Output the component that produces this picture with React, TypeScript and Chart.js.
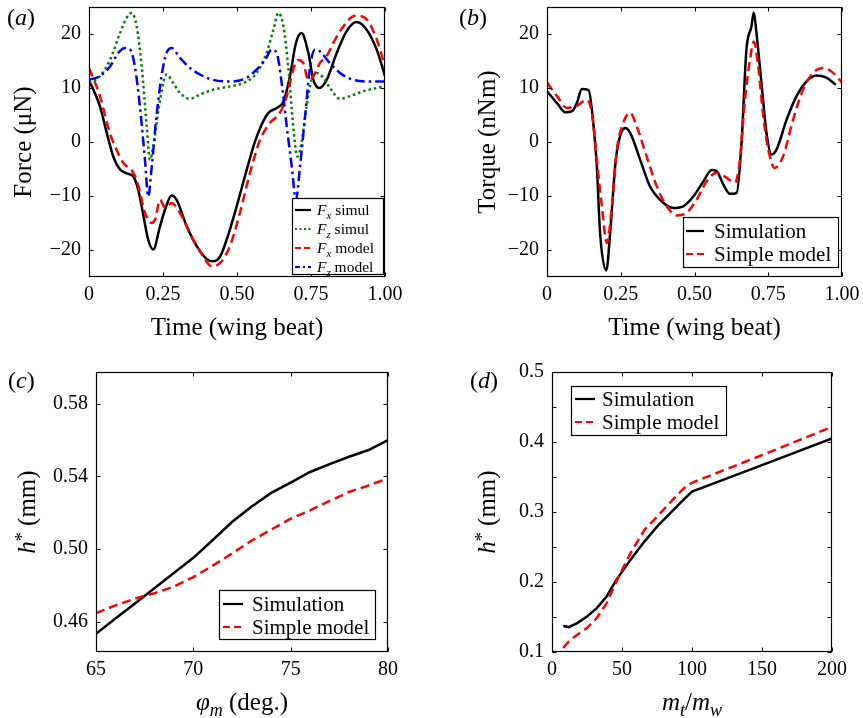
import React, { useEffect, useRef } from 'react';
import { Chart, registerables } from 'chart.js';

Chart.register(...registerables);

const SERIF = '"Liberation Serif", "Times New Roman", Times, serif';

// ---------------- (a) Force vs time ----------------
const aFxSimT = [0, 0.037, 0.06, 0.082, 0.105, 0.127, 0.15, 0.167, 0.185, 0.2, 0.217, 0.24, 0.257, 0.279, 0.296, 0.33, 0.364, 0.398, 0.42, 0.443, 0.465, 0.499, 0.533, 0.561, 0.583, 0.606, 0.634, 0.657, 0.679, 0.699, 0.718, 0.741, 0.758, 0.778, 0.803, 0.837, 0.87, 0.904, 0.938, 0.972, 1.0];
const aFxSim = [11.5, 6.6, 1.7, -2.7, -5.1, -5.8, -6.4, -9.0, -14, -18.1, -19.9, -15.6, -12.5, -9.9, -10.7, -15.6, -19.3, -21.7, -22.1, -21.2, -18.1, -11.9, -5.1, 0.1, 3.2, 5.4, 6.3, 7.5, 12.2, 18.3, 20.2, 16.5, 11.5, 10, 11.5, 16.5, 20.5, 22.2, 20.8, 17.1, 12.2];

const aFxModT = [0, 0.037, 0.07, 0.093, 0.116, 0.15, 0.167, 0.189, 0.212, 0.223, 0.24, 0.257, 0.279, 0.307, 0.353, 0.386, 0.414, 0.443, 0.476, 0.51, 0.544, 0.578, 0.611, 0.645, 0.668, 0.69, 0.707, 0.724, 0.741, 0.758, 0.78, 0.803, 0.825, 0.859, 0.899, 0.938, 0.972, 1.0];
const aFxMod = [13.7, 8.5, 1.7, -1.4, -3.9, -5.7, -8.2, -13.1, -15, -14.4, -10.7, -12.2, -11.3, -13.1, -18.1, -21.2, -23, -22.4, -19.3, -13.1, -5.7, 0.4, 3.5, 5.4, 8.5, 13.4, 15.2, 14.6, 11.5, 12.2, 14.6, 15.9, 18.3, 21.4, 23.4, 22.7, 19, 14];

const aFzSimT = [0, 0.037, 0.071, 0.105, 0.127, 0.144, 0.161, 0.178, 0.195, 0.206, 0.217, 0.24, 0.262, 0.285, 0.307, 0.341, 0.375, 0.42, 0.476, 0.533, 0.566, 0.6, 0.623, 0.64, 0.657, 0.673, 0.69, 0.704, 0.718, 0.735, 0.752, 0.769, 0.792, 0.814, 0.848, 0.882, 0.927, 0.972, 1.0];
const aFzSim = [10.9, 12.2, 15.2, 20.2, 23, 23.9, 21.4, 14, 2.9, -3.3, -0.8, 7.8, 12.5, 10.9, 9.1, 8, 8.8, 9.7, 10.3, 11.2, 12.8, 16.5, 20.8, 23.9, 21.4, 14, 2.9, -2.7, -0.2, 6.6, 11.5, 12.8, 11.9, 10, 8, 8.5, 9.4, 10, 10.4];

const aFzModT = [0, 0.037, 0.071, 0.099, 0.122, 0.139, 0.155, 0.172, 0.189, 0.2, 0.212, 0.228, 0.245, 0.262, 0.279, 0.307, 0.341, 0.375, 0.42, 0.476, 0.533, 0.566, 0.595, 0.617, 0.634, 0.651, 0.668, 0.685, 0.699, 0.713, 0.73, 0.747, 0.763, 0.78, 0.814, 0.848, 0.893, 0.949, 1.0];
const aFzMod = [11.5, 12.2, 14, 16.5, 17.4, 17.1, 14, 6.6, -3.3, -10.1, -4.5, 4.8, 12.2, 16.5, 17.4, 15.6, 13.7, 12.5, 11.5, 11.2, 11.9, 13.4, 15.2, 17.1, 16.5, 10.9, 2.9, -4.5, -10.7, -4.5, 4.8, 14, 17.1, 16.8, 14.6, 12.8, 11.5, 11.2, 11.2];

// ---------------- (b) Torque vs time ----------------
const bSimT = [0, 0.034, 0.062, 0.085, 0.101, 0.118, 0.141, 0.158, 0.169, 0.18, 0.201, 0.214, 0.231, 0.242, 0.265, 0.282, 0.316, 0.349, 0.395, 0.428, 0.462, 0.496, 0.53, 0.558, 0.575, 0.598, 0.62, 0.643, 0.66, 0.676, 0.693, 0.701, 0.71, 0.727, 0.744, 0.761, 0.778, 0.812, 0.846, 0.879, 0.913, 0.947, 0.979];
const bSim = [9.4, 7.2, 5.5, 5.7, 7.2, 9.8, 9.6, 2.9, -4.5, -16.9, -23.8, -16.9, -4.5, -0.2, 2.6, 1.7, -3.3, -8.2, -11.3, -12.2, -11.9, -10.1, -7.3, -5.2, -5.4, -7.9, -9.6, -9.4, 0.4, 17.1, 21.4, 24, 20.2, 10.9, 1.7, -2.3, -1.4, 4.1, 8.5, 11.2, 12.3, 11.9, 10.6];

const bModT = [0, 0.034, 0.068, 0.101, 0.135, 0.152, 0.169, 0.186, 0.203, 0.22, 0.237, 0.254, 0.282, 0.304, 0.338, 0.372, 0.406, 0.44, 0.474, 0.507, 0.541, 0.575, 0.603, 0.637, 0.654, 0.671, 0.688, 0.701, 0.716, 0.733, 0.75, 0.772, 0.8, 0.834, 0.868, 0.902, 0.936, 0.97, 1.0];
const bMod = [11, 8.5, 6.3, 6.7, 7.8, 5.4, -3.3, -11.9, -18.7, -11.9, -1.4, 2.9, 5.4, 2.9, -2.7, -8.2, -11.9, -13.6, -13.1, -10.7, -7.3, -5.7, -6.4, -7.5, -3.3, 7.8, 15.2, 18.6, 14, 4.8, -1.4, -4.8, -2.7, 4.1, 9.7, 12.8, 13.7, 12.8, 11];

const timeTicks = [0, 0.25, 0.5, 0.75, 1];
const timeTickLabels = ['0', '0.25', '0.50', '0.75', '1.00'];
const valueTicks = [-20, -10, 0, 10, 20];
const valueTickLabels = ['\u221220', '\u221210', '0', '10', '20'];

// ---------------- (c) h* vs stroke amplitude ----------------
const cPhi = [65, 66, 67, 68, 69, 70, 71, 72, 73, 74, 75, 76, 77, 78, 79, 80];
const cSim = [0.4534, 0.4618, 0.4701, 0.4785, 0.4868, 0.4952, 0.505, 0.515, 0.5234, 0.5309, 0.5366, 0.5424, 0.5467, 0.5508, 0.5545, 0.5599];
const cMod = [0.4648, 0.469, 0.4728, 0.4757, 0.4794, 0.4846, 0.4909, 0.4977, 0.5047, 0.5107, 0.5167, 0.5213, 0.5265, 0.5314, 0.535, 0.5388];
const cXTicks = [65, 70, 75, 80];
const cXTickLabels = ['65', '70', '75', '80'];
const cYTicks = [0.46, 0.5, 0.54, 0.58];
const cYTickLabels = ['0.46', '0.50', '0.54', '0.58'];

// ---------------- (d) h* vs mass ratio ----------------
const dRatio = [8, 12, 18, 25, 32, 39, 46, 56, 66, 75, 85, 94, 100, 150, 200];
const dSim = [0.137, 0.1356, 0.1413, 0.1508, 0.1627, 0.1793, 0.2031, 0.2316, 0.2577, 0.2791, 0.2994, 0.3178, 0.329, 0.367, 0.405];
const dMod = [0.1057, 0.1152, 0.1247, 0.1342, 0.1485, 0.1698, 0.2007, 0.2411, 0.2743, 0.2933, 0.3147, 0.3337, 0.3418, 0.3812, 0.4216];
const dXTicks = [0, 50, 100, 150, 200];
const dXTickLabels = ['0', '50', '100', '150', '200'];
const dYTicks = [0.1, 0.15, 0.2, 0.25, 0.3, 0.35, 0.4, 0.45, 0.5];
const dYTickLabels = ['0.1', '', '0.2', '', '0.3', '', '0.4', '', '0.5'];

type Seg = { t: string; it?: boolean; sub?: boolean; sup?: boolean };

const SOLID: number[] = [];
const DASH = [9, 5];
const DOT = [2.5, 3];
const DASHDOT = [10, 4, 2.5, 4];

function segFont(s: Seg, size: number) {
  const sz = s.sub || s.sup ? Math.round(size * 0.7) : size;
  return `${s.it ? 'italic ' : ''}${sz}px ${SERIF}`;
}

function drawRich(ctx: CanvasRenderingContext2D, segs: Seg[], x: number, y: number, size: number, align: string, rotate?: boolean) {
  ctx.save();
  ctx.translate(x, y);
  if (rotate) ctx.rotate(-Math.PI / 2);
  ctx.textBaseline = 'alphabetic';
  ctx.textAlign = 'left';
  ctx.fillStyle = '#000';
  let total = 0;
  const widths = segs.map((s) => {
    ctx.font = segFont(s, size);
    const w = ctx.measureText(s.t).width;
    total += w;
    return w;
  });
  let cx = align === 'center' ? -total / 2 : 0;
  segs.forEach((s, i) => {
    ctx.font = segFont(s, size);
    const dy = s.sub ? size * 0.22 : s.sup ? -size * 0.28 : 0;
    ctx.fillText(s.t, cx, dy);
    cx += widths[i];
  });
  ctx.restore();
}

function series(xs: number[], ys: number[], color: string, dash: number[], order: number, smooth: boolean) {
  return {
    data: xs.map((x, i) => ({ x, y: ys[i] })),
    borderColor: color,
    backgroundColor: color,
    borderWidth: 2.5,
    borderDash: dash,
    pointRadius: 0,
    fill: false,
    order,
    tension: smooth ? 0.4 : 0,
    cubicInterpolationMode: smooth ? 'monotone' : 'default',
  };
}

const F_SIMUL: Seg[] = [{ t: 'F', it: true }, { t: 'x', it: true, sub: true }, { t: ' simul' }];
const FZ_SIMUL: Seg[] = [{ t: 'F', it: true }, { t: 'z', it: true, sub: true }, { t: ' simul' }];
const F_MODEL: Seg[] = [{ t: 'F', it: true }, { t: 'x', it: true, sub: true }, { t: ' model' }];
const FZ_MODEL: Seg[] = [{ t: 'F', it: true }, { t: 'z', it: true, sub: true }, { t: ' model' }];
const HSTAR: Seg[] = [{ t: 'h', it: true }, { t: '*', sup: true }, { t: ' (mm)' }];
const SIM_MODEL_ITEMS = [
  { segs: [{ t: 'Simulation' }], color: '#000000', dash: SOLID },
  { segs: [{ t: 'Simple model' }], color: '#ff0000', dash: [7, 4] },
];

const panels = [
  {
    id: 'a', left: 0, top: 0, w: 431, h: 345,
    area: { L: 89, T: 7, R: 385, B: 277 },
    x: { min: 0, max: 1, ticks: timeTicks, labels: timeTickLabels },
    y: { min: -25, max: 25, ticks: valueTicks, labels: valueTickLabels },
    datasets: [
      series(aFxSimT, aFxSim, '#000000', SOLID, 3, true),
      series(aFzSimT, aFzSim, '#008000', DOT, 2, true),
      series(aFxModT, aFxMod, '#ff0000', DASH, 1, true),
      series(aFzModT, aFzMod, '#0000ff', DASHDOT, 0, true),
    ],
    legend: {
      box: [292, 198, 383, 274], rows: [210, 229, 248, 267], sx: [295, 311], tx: 317, size: 15.5,
      items: [
        { segs: F_SIMUL, color: '#000000', dash: SOLID },
        { segs: FZ_SIMUL, color: '#008000', dash: [2, 2.5] },
        { segs: F_MODEL, color: '#ff0000', dash: [6, 3] },
        { segs: FZ_MODEL, color: '#0000ff', dash: [5, 3, 2, 3] },
      ],
    },
    texts: [
      { segs: [{ t: '(' }, { t: 'a', it: true }, { t: ')' }], x: 7, y: 25, size: 24, align: 'left' },
      { segs: [{ t: 'Force (\u03bcN)' }], x: 31, y: 142, size: 25, align: 'center', rotate: true },
      { segs: [{ t: 'Time (wing beat)' }], x: 237, y: 335, size: 25, align: 'center' },
    ],
  },
  {
    id: 'b', left: 431, top: 0, w: 432, h: 345,
    area: { L: 116, T: 7, R: 411, B: 277 },
    x: { min: 0, max: 1, ticks: timeTicks, labels: timeTickLabels },
    y: { min: -25, max: 25, ticks: valueTicks, labels: valueTickLabels },
    datasets: [
      series(bSimT, bSim, '#000000', SOLID, 1, true),
      series(bModT, bMod, '#ff0000', DASH, 0, true),
    ],
    legend: { box: [252, 217, 407, 267], rows: [231, 254], sx: [255, 273], tx: 283, size: 21, items: SIM_MODEL_ITEMS },
    texts: [
      { segs: [{ t: '(' }, { t: 'b', it: true }, { t: ')' }], x: 28, y: 25, size: 24, align: 'left' },
      { segs: [{ t: 'Torque (nNm)' }], x: 64, y: 142, size: 25, align: 'center', rotate: true },
      { segs: [{ t: 'Time (wing beat)' }], x: 263.5, y: 335, size: 25, align: 'center' },
    ],
  },
  {
    id: 'c', left: 0, top: 345, w: 431, h: 373,
    area: { L: 96, T: 27, R: 388, B: 307 },
    x: { min: 65, max: 80, ticks: cXTicks, labels: cXTickLabels },
    y: { min: 0.4434, max: 0.5974, ticks: cYTicks, labels: cYTickLabels },
    datasets: [
      series(cPhi, cSim, '#000000', SOLID, 1, false),
      series(cPhi, cMod, '#ff0000', DASH, 0, false),
    ],
    legend: { box: [219, 245, 375, 294], rows: [259, 282], sx: [223, 243], tx: 252, size: 21, items: SIM_MODEL_ITEMS },
    texts: [
      { segs: [{ t: '(' }, { t: 'c', it: true }, { t: ')' }], x: 8, y: 43, size: 24, align: 'left' },
      { segs: HSTAR, x: 35, y: 167, size: 25, align: 'center', rotate: true },
      { segs: [{ t: '\u03c6', it: true }, { t: 'm', it: true, sub: true }, { t: ' (deg.)' }], x: 242, y: 365, size: 25, align: 'center' },
    ],
  },
  {
    id: 'd', left: 431, top: 345, w: 432, h: 373,
    area: { L: 121, T: 27, R: 401, B: 307 },
    x: { min: 0, max: 200, ticks: dXTicks, labels: dXTickLabels },
    y: { min: 0.1, max: 0.5, ticks: dYTicks, labels: dYTickLabels },
    datasets: [
      series(dRatio, dSim, '#000000', SOLID, 1, false),
      series(dRatio, dMod, '#ff0000', DASH, 0, false),
    ],
    legend: { box: [140, 41, 295, 90], rows: [54, 77], sx: [144, 164], tx: 171, size: 21, items: SIM_MODEL_ITEMS },
    texts: [
      { segs: [{ t: '(' }, { t: 'd', it: true }, { t: ')' }], x: 39, y: 43, size: 24, align: 'left' },
      { segs: HSTAR, x: 64, y: 167, size: 25, align: 'center', rotate: true },
      { segs: [{ t: 'm', it: true }, { t: 't', it: true, sub: true }, { t: '/' }, { t: 'm', it: true }, { t: 'w', it: true, sub: true }], x: 261, y: 365, size: 25, align: 'center' },
    ],
  },
];

function makePlugin(p: any) {
  return {
    id: 'frame_' + p.id,
    afterDraw(chart: any) {
      const ctx: CanvasRenderingContext2D = chart.ctx;
      const a = chart.chartArea;
      const xs = chart.scales.x;
      const ys = chart.scales.y;
      ctx.save();
      ctx.setLineDash([]);
      ctx.strokeStyle = '#000';
      ctx.lineWidth = 1.2;
      const L = Math.round(a.left) + 0.5;
      const R = Math.round(a.right) - 0.5;
      const T = Math.round(a.top) + 0.5;
      const B = Math.round(a.bottom) - 0.5;
      ctx.strokeRect(L, T, R - L, B - T);
      const tl = 4;
      ctx.lineWidth = 1;
      ctx.beginPath();
      p.x.ticks.forEach((v: number) => {
        const px = Math.round(xs.getPixelForValue(v)) + 0.5;
        ctx.moveTo(px, B); ctx.lineTo(px, B - tl);
        ctx.moveTo(px, T); ctx.lineTo(px, T + tl);
      });
      p.y.ticks.forEach((v: number) => {
        const py = Math.round(ys.getPixelForValue(v)) + 0.5;
        ctx.moveTo(L, py); ctx.lineTo(L + tl, py);
        ctx.moveTo(R, py); ctx.lineTo(R - tl, py);
      });
      ctx.stroke();

      // legend
      const lg = p.legend;
      const [x1, y1, x2, y2] = lg.box;
      ctx.fillStyle = '#fff';
      ctx.fillRect(x1, y1, x2 - x1, y2 - y1);
      ctx.strokeStyle = '#000';
      ctx.lineWidth = 1.2;
      ctx.strokeRect(x1 + 0.5, y1 + 0.5, x2 - x1, y2 - y1);
      lg.items.forEach((it: any, i: number) => {
        const yc = lg.rows[i];
        ctx.save();
        ctx.strokeStyle = it.color;
        ctx.lineWidth = 2.2;
        ctx.setLineDash(it.dash);
        ctx.beginPath();
        ctx.moveTo(lg.sx[0], yc);
        ctx.lineTo(lg.sx[1], yc);
        ctx.stroke();
        ctx.restore();
        drawRich(ctx, it.segs, lg.tx, yc + lg.size * 0.33, lg.size, 'left');
      });

      p.texts.forEach((t: any) => drawRich(ctx, t.segs, t.x, t.y, t.size, t.align, t.rotate));
      ctx.restore();
    },
  };
}

function buildConfig(p: any): any {
  const tickFont = { family: SERIF, size: 20 };
  return {
    type: 'line',
    data: { datasets: p.datasets },
    options: {
      animation: false,
      responsive: false,
      maintainAspectRatio: false,
      layout: { padding: { top: p.area.T, right: p.w - p.area.R, left: 0, bottom: 0 } },
      plugins: { legend: { display: false }, tooltip: { enabled: false } },
      scales: {
        x: {
          type: 'linear',
          min: p.x.min,
          max: p.x.max,
          grid: { display: false, drawTicks: false },
          border: { display: false },
          afterBuildTicks: (s: any) => { s.ticks = p.x.ticks.map((v: number) => ({ value: v })); },
          afterFit: (s: any) => {
            s.height = p.h - p.area.B;
            s.paddingLeft = 0; s.paddingRight = 0;
          },
          ticks: {
            callback: (_v: any, i: number) => p.x.labels[i],
            font: tickFont, color: '#000', padding: 6, maxRotation: 0, minRotation: 0, autoSkip: false,
          },
        },
        y: {
          type: 'linear',
          min: p.y.min,
          max: p.y.max,
          grid: { display: false, drawTicks: false },
          border: { display: false },
          afterBuildTicks: (s: any) => { s.ticks = p.y.ticks.map((v: number) => ({ value: v })); },
          afterFit: (s: any) => {
            s.width = p.area.L;
            s.paddingTop = 0; s.paddingBottom = 0;
          },
          ticks: {
            callback: (_v: any, i: number) => p.y.labels[i],
            font: tickFont, color: '#000', padding: 8, autoSkip: false,
          },
        },
      },
    },
    plugins: [makePlugin(p)],
  };
}

function Panel({ p }: { p: any }) {
  const ref = useRef<HTMLCanvasElement | null>(null);
  useEffect(() => {
    if (!ref.current) return;
    const chart = new Chart(ref.current, buildConfig(p));
    return () => chart.destroy();
  }, []);
  return (
    <canvas
      ref={ref}
      width={p.w}
      height={p.h}
      style={{ position: 'absolute', left: p.left, top: p.top, width: p.w, height: p.h }}
    />
  );
}

export default function App() {
  return (
    <div style={{ position: 'absolute', left: 0, top: 0, width: 863, height: 718, background: '#fff' }}>
      {panels.map((p) => (
        <Panel key={p.id} p={p} />
      ))}
    </div>
  );
}
